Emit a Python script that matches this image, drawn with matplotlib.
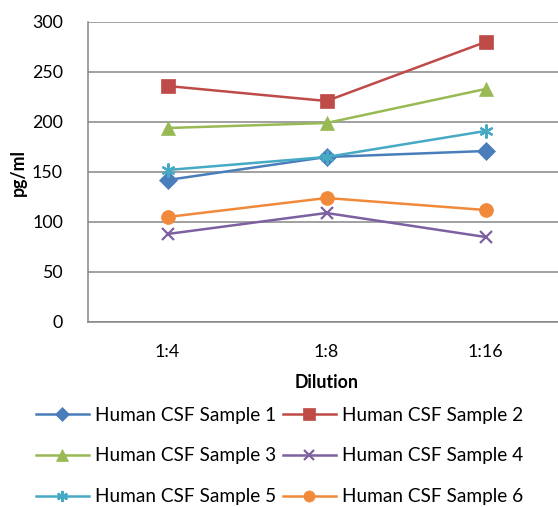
import matplotlib
matplotlib.use("Agg")
import matplotlib.pyplot as plt

plt.rcParams["font.family"] = ["Lato", "DejaVu Sans"]

# data
dilutions = ["1:4", "1:8", "1:16"]
sample_names = ["Human CSF Sample 1", "Human CSF Sample 2", "Human CSF Sample 3",
                "Human CSF Sample 4", "Human CSF Sample 5", "Human CSF Sample 6"]
sample1 = [142, 165, 171]
sample2 = [236, 221, 280]
sample3 = [194, 199, 233]
sample4 = [88, 109, 85]
sample5 = [152, 165, 191]
sample6 = [105, 124, 112]
y_ticks = [0, 50, 100, 150, 200, 250, 300]

series = [sample1, sample2, sample3, sample4, sample5, sample6]
colors = ["#4A7EBB", "#BE4B48", "#98B954", "#7D60A0", "#46AAC5", "#F08A3A"]
markers = ["D", "s", "^", "x", (6, 2, 0), "o"]
msizes = [9, 10, 10, 9, 10, 10]

fig = plt.figure(figsize=(5.58, 5.07), dpi=100)
ax = fig.add_axes([88 / 558, 185 / 507, 477 / 558, 300 / 507])

x = list(range(len(dilutions)))
handles = []
for vals, name, c, m, ms in zip(series, sample_names, colors, markers, msizes):
    h, = ax.plot(x, vals, color=c, lw=1.8, marker=m, markersize=ms,
                 markeredgewidth=1.6 if m in ("x", (6, 2, 0)) else 0.5,
                 markeredgecolor=c, markerfacecolor=c, label=name,
                 clip_on=False, zorder=3)
    handles.append(h)

ax.set_xlim(-0.5, 2.5)
ax.set_ylim(0, 300)
ax.set_yticks(y_ticks)
ax.set_xticks(x)
ax.set_xticklabels(dilutions)
ax.grid(axis="y", color="#868686", lw=1.1)
ax.set_axisbelow(True)
ax.tick_params(axis="both", length=0, labelsize=12.8, colors="black")
ax.tick_params(axis="y", pad=18)
ax.tick_params(axis="x", pad=16)
for s in ["top", "right"]:
    ax.spines[s].set_visible(False)
for s in ["left", "bottom"]:
    ax.spines[s].set_color("#868686")
    ax.spines[s].set_linewidth(1.1)

ax.set_ylabel("pg/ml", fontsize=12.8, fontweight="bold", labelpad=4)
ax.set_xlabel("Dilution", fontsize=12.8, fontweight="bold", labelpad=10)

# matplotlib fills legend columns first, so reorder for row-wise reading
order = [0, 2, 4, 1, 3, 5]
fig.legend([handles[i] for i in order], [sample_names[i] for i in order],
           ncol=2, loc="center", bbox_to_anchor=(0.501, 0.1006), frameon=False,
           fontsize=13.7, handlelength=2.78, handletextpad=0.32, columnspacing=0.37,
           labelspacing=1.25, markerscale=0.8)

fig.savefig("out.png", dpi=100)
